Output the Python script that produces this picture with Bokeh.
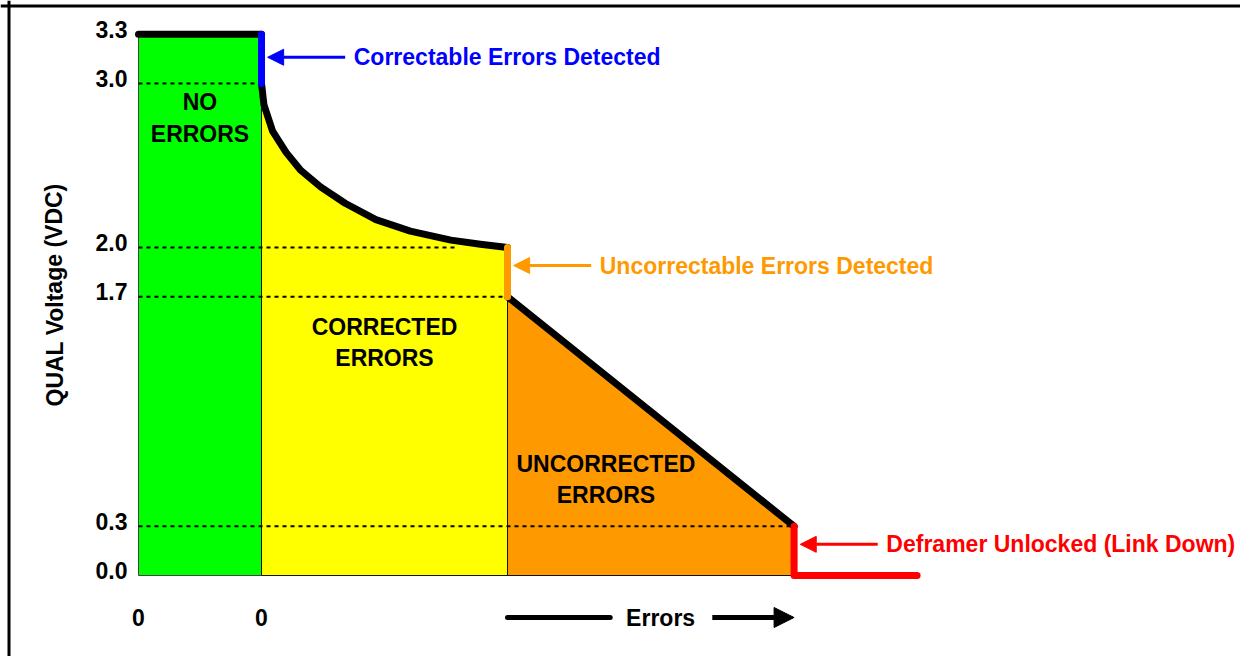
from bokeh.plotting import figure
from bokeh.models import Span, Arrow, NormalHead, Range1d
from bokeh.core.properties import value
from bokeh.embed import file_html
from bokeh.resources import INLINE

# ---------------- data ----------------
y_tick_values = [3.3, 3.0, 2.0, 1.7, 0.3, 0.0]
y_tick_labels = ["3.3", "3.0", "2.0", "1.7", "0.3", "0.0"]
x_tick_values = [0.0, 1.0]
x_tick_labels = ["0", "0"]

zone_edges = [0.0, 1.0, 3.0, 5.33]      # no errors | corrected | uncorrected
link_down_end = 6.33
v_max = 3.3
v_correctable = 3.0
v_uncorr_top = 2.0
v_uncorr = 1.7
v_unlocked = 0.3

curve_x = [1.0, 1.02, 1.09, 1.20, 1.32, 1.48, 1.68, 1.93, 2.21, 2.54, 2.78, 3.0]
curve_v = [3.0, 2.87, 2.71, 2.58, 2.47, 2.37, 2.27, 2.17, 2.10, 2.045, 2.02, 2.0]

ref_levels = [3.0, 2.0, 1.7, 0.3]
ref_ends = [1.0, 2.6, 3.0, 5.33]

zone_labels = ["NO\nERRORS", "CORRECTED\nERRORS", "UNCORRECTED\nERRORS"]
zone_label_x = [0.5, 2.0, 3.8]
zone_label_v = [2.79, 1.42, 0.585]

event_labels = ["Correctable Errors Detected", "Uncorrectable Errors Detected",
                "Deframer Unlocked (Link Down)"]
event_colors = ["#0000FF", "#FF9900", "#FF0000"]

y_title = "QUAL Voltage (VDC)"
x_title = "Errors"

GREEN, YELLOW, ORANGE = "#00FF00", "#FFFF00", "#FF9900"
FONT = value("Liberation Sans")
FS = "23px"

# ---------------- figure ----------------
W, H = 1240, 656
x0_px, px_x = 138, 123.0
y0_px, px_y = 575, 164.0
p = figure(width=W, height=H, output_backend="svg", toolbar_location=None,
           x_range=Range1d(-x0_px / px_x, (W - x0_px) / px_x),
           y_range=Range1d((y0_px - H) / px_y, y0_px / px_y),
           x_axis_type=None, y_axis_type=None, min_border=0)
p.outline_line_color = None
p.background_fill_color = "white"
p.border_fill_color = "white"

# frame lines (top / left)
p.add_layout(Span(location=(y0_px - 5.5) / px_y, dimension="width", line_color="black", line_width=3))
p.add_layout(Span(location=(8.5 - x0_px) / px_x, dimension="height", line_color="black", line_width=3))

e0, e1, e2, e3 = zone_edges
# zone fills
p.patch([e0, e1, e1, e0], [0, 0, v_max, v_max], fill_color=GREEN, line_color="#444", line_width=1)
p.patch([e1] + curve_x + [e2], [0] + curve_v + [0], fill_color=YELLOW, line_color="#111", line_width=1)
p.patch([e2, e2, e3, e3], [0, v_uncorr, v_unlocked, 0], fill_color=ORANGE, line_color="#111", line_width=1)

# dashed reference lines
for lv, le in zip(ref_levels, ref_ends):
    p.line([e0, le], [lv, lv], line_color="black", line_width=2, line_dash="4 4")

# thick outline
p.line([e0, e1], [v_max, v_max], line_color="black", line_width=7, line_cap="round")
p.line(curve_x, curve_v, line_color="black", line_width=7, line_cap="round", line_join="round")
p.line([e2, e3], [v_uncorr, v_unlocked], line_color="black", line_width=7, line_cap="round")
p.line([e1, e1], [v_max, v_correctable], line_color="#0000FF", line_width=7, line_cap="round")
p.line([e2, e2], [v_uncorr_top, v_uncorr], line_color=ORANGE, line_width=7, line_cap="round")
p.line([e3, e3, link_down_end], [v_unlocked, 0, 0], line_color="#FF0000", line_width=7,
       line_cap="round", line_join="round")

# event arrows + labels
ev_v = [(v_max + v_correctable) / 2 + 0.01, (v_uncorr_top + v_uncorr) / 2 + 0.04, v_unlocked / 2 + 0.04]
ev_x = [e1, e2, e3]
for xv, yv, lab, col in zip(ev_x, ev_v, event_labels, event_colors):
    p.add_layout(Arrow(end=NormalHead(size=16, fill_color=col, line_color=col),
                       x_start=xv + 0.68, y_start=yv, x_end=xv + 0.05, y_end=yv,
                       line_color=col, line_width=3))
    p.text(x=[xv + 0.75], y=[yv], text=[lab], text_color=col, text_font=FONT,
           text_font_style="bold", text_font_size=FS, text_align="left",
           text_baseline="middle")

# zone labels
p.text(x=zone_label_x, y=zone_label_v, text=zone_labels, text_color="black", text_font=FONT,
       text_font_style="bold", text_font_size=FS, text_align="center",
       text_baseline="middle", text_line_height=1.22)

# y tick labels
p.text(x=[e0] * len(y_tick_values), y=y_tick_values, text=y_tick_labels, x_offset=-11,
       y_offset=-5, text_color="black", text_font=FONT, text_font_style="bold",
       text_font_size=FS, text_align="right", text_baseline="middle")
# x tick labels
p.text(x=x_tick_values, y=[0] * len(x_tick_values), text=x_tick_labels, y_offset=42,
       text_color="black", text_font=FONT, text_font_style="bold", text_font_size=FS,
       text_align="center", text_baseline="middle")

# y title
p.text(x=[e0], y=[v_max / 2], text=[y_title], x_offset=-84, y_offset=-10, angle=1.5708,
       text_color="black", text_font=FONT, text_font_style="bold", text_font_size=FS,
       text_align="center", text_baseline="middle")

# Errors arrow
err_y = -42 / px_y
err_mid = (e2 + e3) / 2 + 0.08
p.line([e2, err_mid - 0.41], [err_y, err_y], line_color="black", line_width=5, line_cap="round")
p.add_layout(Arrow(end=NormalHead(size=20, fill_color="black", line_color="black"),
                   x_start=err_mid + 0.42, y_start=err_y, x_end=e3, y_end=err_y,
                   line_color="black", line_width=5))
p.text(x=[err_mid], y=[0], text=[x_title], y_offset=42, text_color="black", text_font=FONT,
       text_font_style="bold", text_font_size=FS, text_align="center",
       text_baseline="middle")

open("out.html", "w").write(file_html(p, INLINE))
